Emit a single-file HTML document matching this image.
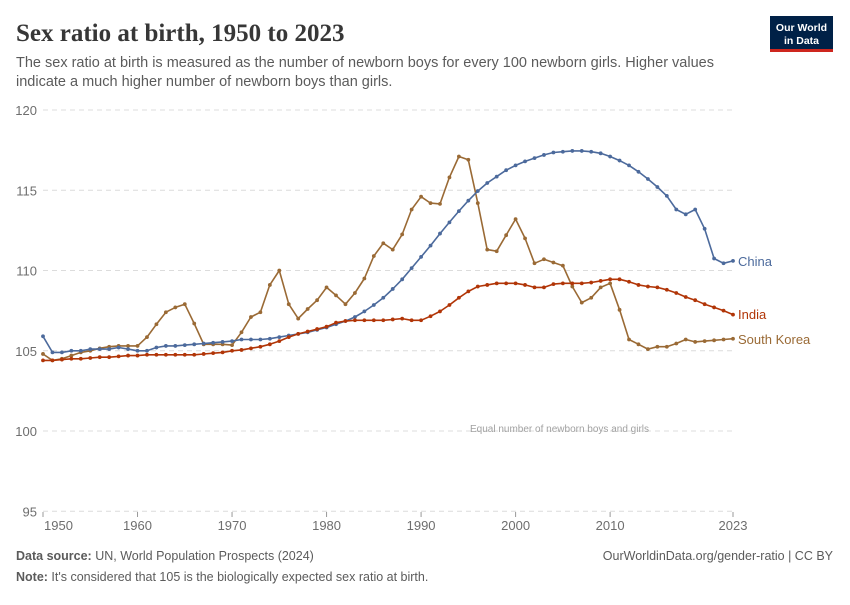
<!DOCTYPE html>
<html><head><meta charset="utf-8"><style>
body{margin:0;background:#fff;width:850px;height:600px;overflow:hidden;font-family:"Liberation Sans",sans-serif}
</style></head><body>
<svg id="s" width="850" height="600" xmlns="http://www.w3.org/2000/svg" font-family="Liberation Sans, sans-serif">
<text x="16" y="41" font-family="Liberation Serif, serif" font-size="25" font-weight="bold" fill="#373737">Sex ratio at birth, 1950 to 2023</text>
<text x="16" y="67" font-size="14.5" fill="#5b5b5b">The sex ratio at birth is measured as the number of newborn boys for every 100 newborn girls. Higher values</text>
<text x="16" y="86" font-size="14.5" fill="#5b5b5b">indicate a much higher number of newborn boys than girls.</text>
<rect x="770" y="16" width="63" height="35" fill="#002147"/>
<rect x="770" y="49" width="63" height="3" fill="#ce261e"/>
<text x="801.5" y="31" font-size="10.5" fill="#fff" text-anchor="middle" font-weight="bold">Our World</text>
<text x="801.5" y="44" font-size="10.5" fill="#fff" text-anchor="middle" font-weight="bold">in Data</text>
<g id="grid"></g>
<text x="470" y="432" font-size="10" fill="#a1a1a1">Equal number of newborn boys and girls</text>
<g id="plot"></g>
<text x="16" y="560" font-size="12.5" fill="#5b5b5b"><tspan font-weight="bold">Data source:</tspan> UN, World Population Prospects (2024)</text>
<text x="833" y="560" font-size="12.5" fill="#5b5b5b" text-anchor="end">OurWorldinData.org/gender-ratio | CC BY</text>
<text x="16" y="581" font-size="12.5" fill="#5b5b5b"><tspan font-weight="bold">Note:</tspan> It's considered that 105 is the biologically expected sex ratio at birth.</text>
</svg>
<script>
var NS="http://www.w3.org/2000/svg";
function X(yr){return 43+(yr-1950)*9.452}
function Y(v){return 431-(v-100)*16.05}
function el(p,t,a,txt){var e=document.createElementNS(NS,t);for(var k in a)e.setAttribute(k,a[k]);if(txt)e.textContent=txt;document.getElementById(p).appendChild(e);return e}
[95,100,105,110,115,120].forEach(function(v){
 el("grid","line",{x1:43,x2:735,y1:Y(v),y2:Y(v),stroke:"#dcdcdc","stroke-dasharray":"5,4"});
 el("grid","text",{x:37,y:Y(v)+5,"font-size":13,fill:"#6e6e6e","text-anchor":"end"},String(v));
});
el("grid","line",{x1:43,x2:43,y1:512,y2:517,stroke:"#999"});
[1950,1960,1970,1980,1990,2000,2010,2023].forEach(function(y){
 el("grid","line",{x1:X(y),x2:X(y),y1:512,y2:517,stroke:"#999"});
 el("grid","text",{x:y==1950?44:X(y),y:530,"font-size":13,fill:"#6e6e6e","text-anchor":y==1950?"start":"middle"},String(y));
});
var china=[105.9,104.9,104.9,105.0,105.0,105.1,105.1,105.1,105.2,105.1,105.0,105.0,105.2,105.3,105.3,105.35,105.4,105.45,105.5,105.55,105.6,105.7,105.7,105.7,105.75,105.85,105.95,106.05,106.15,106.3,106.45,106.65,106.85,107.1,107.45,107.85,108.3,108.85,109.45,110.15,110.85,111.55,112.3,113.0,113.7,114.35,114.95,115.45,115.85,116.25,116.55,116.8,117.0,117.2,117.35,117.4,117.45,117.45,117.4,117.3,117.1,116.85,116.55,116.15,115.7,115.2,114.65,113.8,113.5,113.8,112.6,110.75,110.45,110.6];
var india=[104.4,104.4,104.45,104.5,104.5,104.55,104.6,104.6,104.65,104.7,104.7,104.75,104.75,104.75,104.75,104.75,104.75,104.8,104.85,104.9,105.0,105.05,105.15,105.25,105.4,105.6,105.85,106.05,106.2,106.35,106.5,106.75,106.85,106.9,106.9,106.9,106.9,106.95,107.0,106.9,106.9,107.15,107.45,107.85,108.3,108.7,109.0,109.1,109.2,109.2,109.2,109.1,108.95,108.95,109.15,109.2,109.2,109.2,109.25,109.35,109.45,109.45,109.3,109.1,109.0,108.95,108.8,108.6,108.35,108.15,107.9,107.7,107.5,107.25];
var korea=[104.8,104.4,104.5,104.7,104.9,105.0,105.15,105.25,105.3,105.3,105.3,105.85,106.65,107.4,107.7,107.9,106.7,105.4,105.4,105.4,105.35,106.15,107.1,107.4,109.1,110.0,107.9,107.0,107.6,108.15,108.95,108.45,107.9,108.6,109.5,110.9,111.7,111.3,112.25,113.8,114.6,114.2,114.15,115.8,117.1,116.9,114.2,111.3,111.2,112.2,113.2,112.0,110.45,110.7,110.5,110.3,109.0,108.0,108.3,108.95,109.2,107.55,105.7,105.4,105.1,105.25,105.25,105.45,105.7,105.55,105.6,105.65,105.7,105.75];
function series(d,c,lab,ly){
 var pts=d.map(function(v,i){return X(1950+i).toFixed(1)+","+Y(v).toFixed(1)}).join(" ");
 el("plot","polyline",{points:pts,fill:"none",stroke:c,"stroke-width":1.6,"stroke-linejoin":"round"});
 d.forEach(function(v,i){el("plot","circle",{cx:X(1950+i),cy:Y(v),r:1.9,fill:c})});
 el("plot","text",{x:738,y:ly,"font-size":13,fill:c},lab);
}
series(korea,"#9a6a35","South Korea",344);
series(china,"#4c6a9c","China",266);
series(india,"#b13507","India",319);
</script>
</body></html>
